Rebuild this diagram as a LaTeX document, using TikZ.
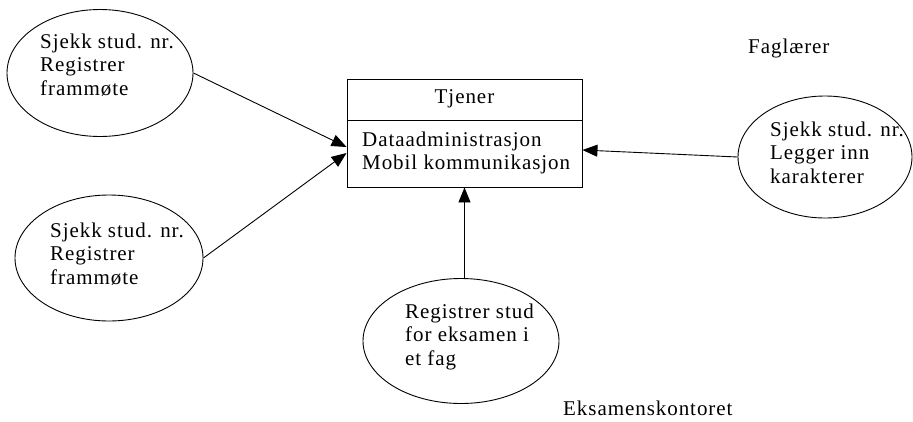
\documentclass[tikz,border=0pt]{standalone}
\usepackage{fontspec}
\setmainfont{Liberation Serif}[LetterSpace=4.5]
\usetikzlibrary{shapes.geometric,arrows.meta}
\begin{document}
\begin{tikzpicture}[x=1pt,y=-1pt,
  every node/.style={font=\fontsize{21}{23.5}\selectfont},
  oval/.style={draw,ellipse,line width=0.9pt,inner sep=0pt},
  txt/.style={anchor=north west,inner sep=0pt,align=left},
  arr/.style={line width=0.9pt,-{Triangle[length=15pt,width=12pt]}}]
\useasboundingbox (0,0) rectangle (913,421);
% ellipses
\node[oval,minimum width=186pt,minimum height=127pt] (e1) at (100,73) {};
\node[oval,minimum width=188pt,minimum height=126pt] (e2) at (109,258) {};
\node[oval,minimum width=174pt,minimum height=122pt] (e3) at (825,157) {};
\node[oval,minimum width=196pt,minimum height=125pt] (e4) at (461,341) {};
% server box
\node[draw,line width=0.9pt,minimum width=235pt,minimum height=108pt,inner sep=0pt] (box) at (464.5,133) {};
\draw[line width=0.9pt] ([yshift=-42pt]box.north west) coordinate (dl) -- ([yshift=-42pt]box.north east) coordinate (dr);
\node[anchor=base,inner sep=0pt] (title) at (464.5,103) {Tjener};
\node[txt] (boxtxt) at (362,146-16) {\rule{0pt}{16pt}Dataadministrasjon\\Mobil kommunikasjon};
% texts in ellipses
\node[txt] (t1) at (40,48-16) {\rule{0pt}{16pt}Sjekk stud. nr.\\Registrer\\frammøte};
\node[txt] (t2) at (50,237-16) {\rule{0pt}{16pt}Sjekk stud. nr.\\Registrer\\frammøte};
\node[txt] (t3) at (770,136-16) {\rule{0pt}{16pt}Sjekk stud. nr.\\Legger inn\\karakterer};
\node[txt] (t4) at (405,318-16) {\rule{0pt}{16pt}Registrer stud\\for eksamen i\\et fag};
% labels
\node[anchor=base west,inner sep=0pt] (fag) at (748,53) {Faglærer};
\node[anchor=base west,inner sep=0pt] (eks) at (563,415) {Eksamenskontoret};
% connectors
\draw[arr] (e1.east) -- ([yshift=-14pt]box.west);
\draw[arr] (e2.east) -- ([yshift=-20pt]box.west);
\draw[arr] (e3.west) -- ([yshift=-17pt]box.east);
\draw[arr] (e4.north -| box.south) -- (box.south);
\end{tikzpicture}
\end{document}
